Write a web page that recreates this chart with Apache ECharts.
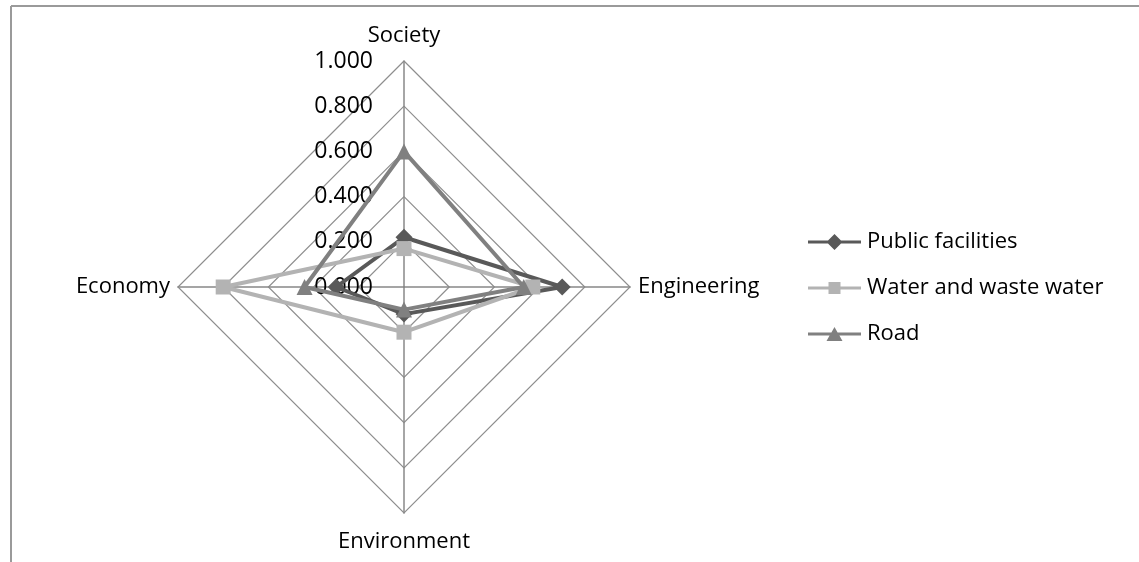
<!DOCTYPE html>
<html>
<head>
<meta charset="utf-8">
<script src="https://cdn.jsdelivr.net/npm/echarts@6/dist/echarts.min.js"></script>
<style>
html,body{margin:0;padding:0;background:#fff;}
#main{width:1139px;height:562px;}
</style>
</head>
<body>
<div id="main"></div>
<script>
// Indicators in ECharts order (counter-clockwise from top): top, left, bottom, right
var categories = ['Society', 'Economy', 'Environment', 'Engineering'];
var seriesNames = ['Public facilities', 'Water and waste water', 'Road'];
var publicFacilities = [0.22, 0.30, 0.12, 0.70];
var waterWaste = [0.17, 0.80, 0.20, 0.57];
var road = [0.60, 0.44, 0.10, 0.53];
var axisMin = 0, axisMax = 1, splitCount = 5;

var FONT = '"Open Sans", "DejaVu Sans", sans-serif';
var colors = ['#595959', '#b3b3b3', '#808080'];
var symbols = ['diamond', 'rect', 'triangle'];
var symbolSizes = [17, 15, 16];
var legendIcons = [
  'path://M0,6.5 L20,6.5 L26.5,0 L33,6.5 L53,6.5 L53,9.5 L33,9.5 L26.5,16 L20,9.5 L0,9.5 Z',
  'path://M0,6.5 L20.5,6.5 L20.5,2 L32.5,2 L32.5,6.5 L53,6.5 L53,9.5 L32.5,9.5 L32.5,14 L20.5,14 L20.5,9.5 L0,9.5 Z',
  'path://M0,6.5 L23.4,6.5 L26.5,1 L29.6,6.5 L53,6.5 L53,9.5 L31.4,9.5 L34.5,15 L18.5,15 L21.6,9.5 L0,9.5 Z'
];
var dataSets = [publicFacilities, waterWaste, road];

var indicators = categories.map(function (c, i) {
  var ind = { name: c, min: axisMin, max: axisMax };
  if (i === 0) {
    ind.axisLabel = {
      show: true, margin: 31, color: '#000', fontSize: 23, fontFamily: FONT,
      formatter: function (v) { return Number(v).toFixed(3); }
    };
  }
  return ind;
});

var chart = echarts.init(document.getElementById('main'), null, { renderer: 'canvas' });
chart.setOption({
  animation: false,
  backgroundColor: '#fff',
  graphic: [
    { type: 'line', shape: { x1: 11, y1: 6, x2: 1139, y2: 6 }, style: { stroke: '#9a9a9a', lineWidth: 2 } },
    { type: 'line', shape: { x1: 11, y1: 6, x2: 11, y2: 562 }, style: { stroke: '#9a9a9a', lineWidth: 2 } }
  ],
  legend: {
    orient: 'vertical',
    left: 803,
    top: 226,
    itemWidth: 53,
    itemHeight: 16,
    itemGap: 24,
    itemStyle: { borderWidth: 0 },
    textStyle: { fontSize: 22, fontFamily: FONT, color: '#000', padding: [0, 0, 0, 1] },
    data: seriesNames.map(function (n, i) { return { name: n, icon: legendIcons[i], itemStyle: { color: colors[i] } }; })
  },
  radar: {
    center: [404, 287],
    radius: 226,
    startAngle: 90,
    shape: 'polygon',
    splitNumber: splitCount,
    indicator: indicators,
    nameGap: 8,
    axisName: { color: '#000', fontSize: 22, fontFamily: FONT, padding: [10, 0, 6, 0] },
    axisLine: { lineStyle: { color: '#888', width: 1.5 } },
    splitLine: { lineStyle: { color: '#8e8e8e', width: 1.2 } },
    splitArea: { show: false },
    axisTick: { show: false },
    axisLabel: { show: false }
  },
  series: dataSets.map(function (d, i) {
    return {
      type: 'radar',
      name: seriesNames[i],
      z: 2 + i,
      symbol: symbols[i],
      symbolSize: symbolSizes[i],
      lineStyle: { color: colors[i], width: 4 },
      itemStyle: { color: colors[i], borderWidth: 0 },
      data: [{ name: seriesNames[i], value: d }]
    };
  })
});
</script>
</body>
</html>
